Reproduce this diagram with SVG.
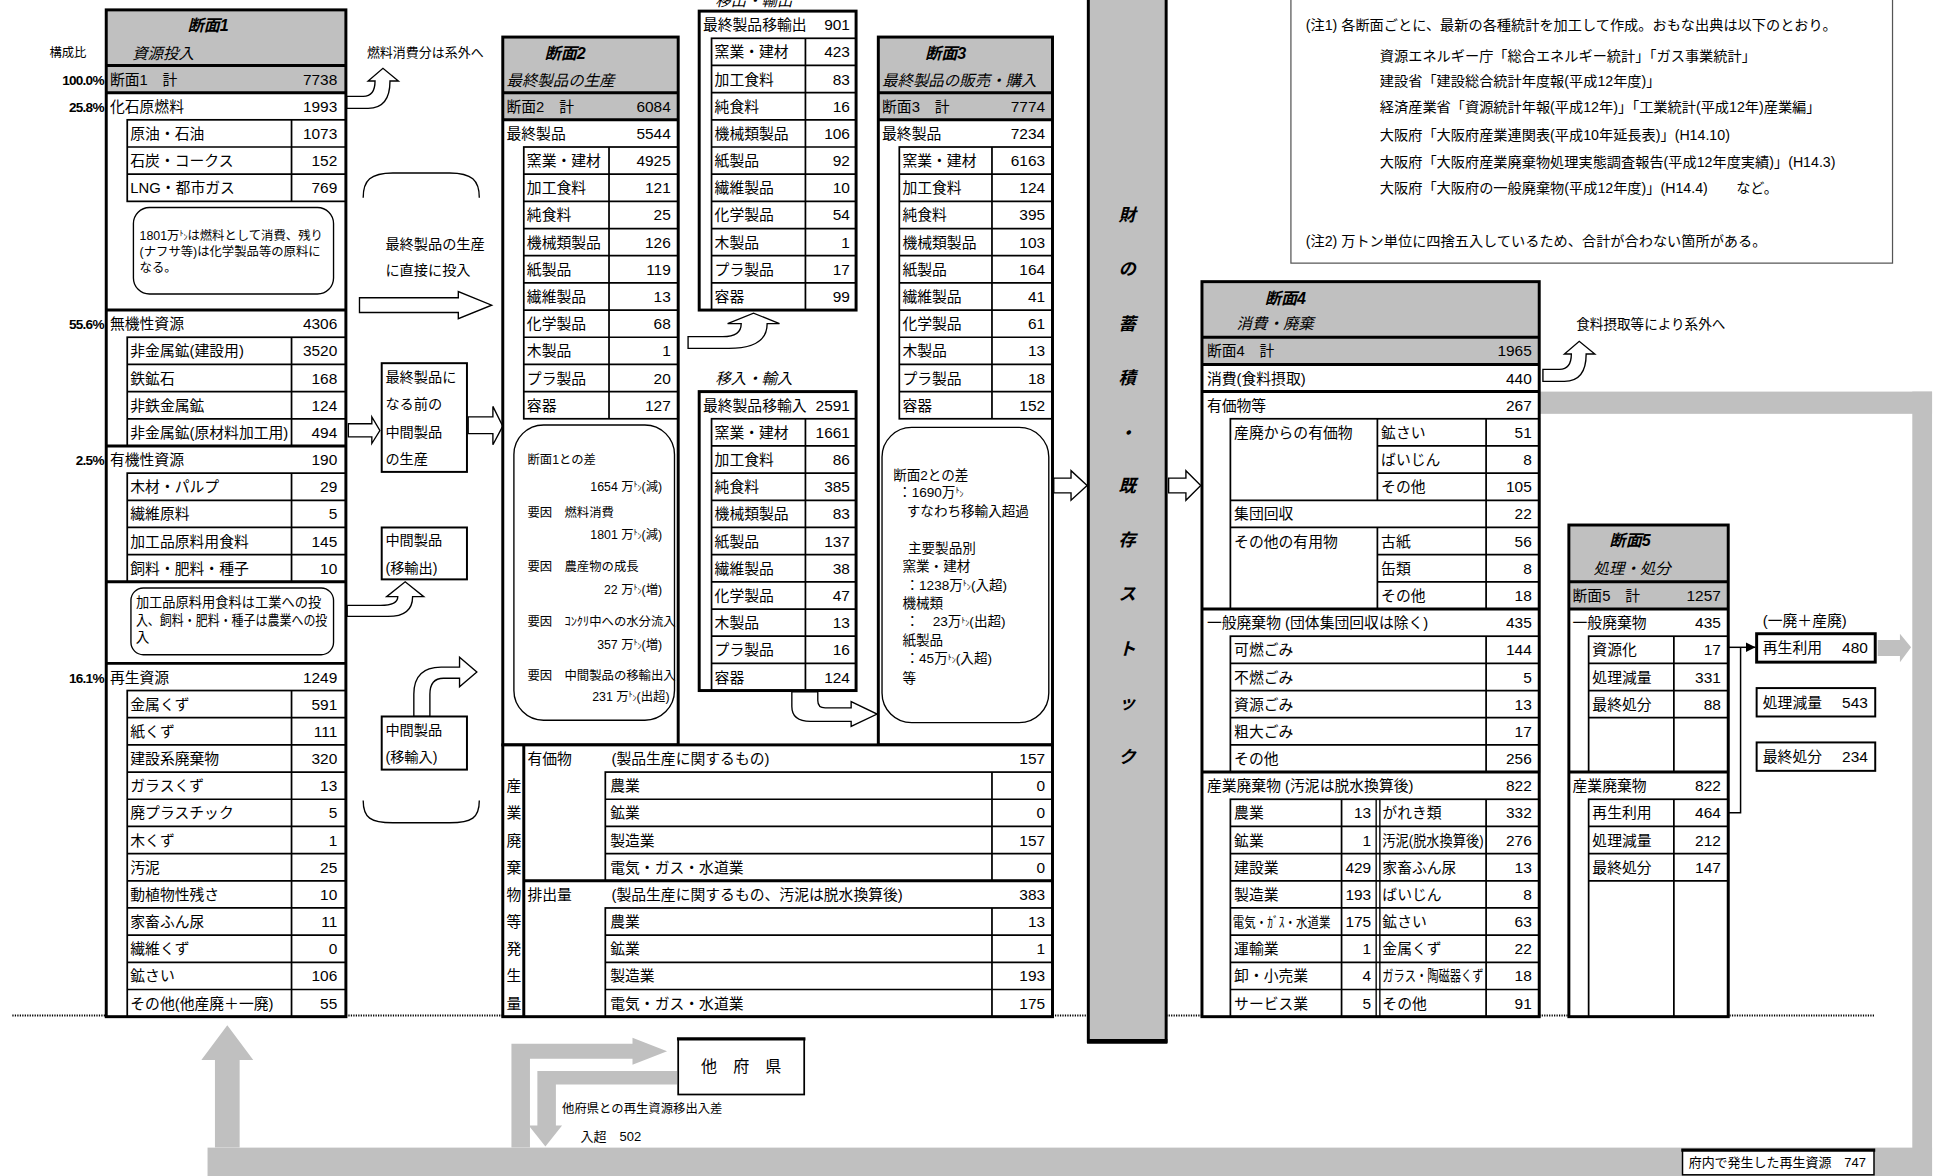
<svg xmlns="http://www.w3.org/2000/svg" width="1937" height="1176" viewBox="0 0 1937 1176">
<defs>
<style>
.t{font-family:"Liberation Sans","Noto Sans CJK JP",sans-serif;font-size:12px;fill:#000}
.v{text-anchor:end;font-size:12.5px}
.m{text-anchor:middle}
.hd{font-weight:bold;font-style:italic;font-size:13px}
.it{font-style:italic;font-size:12.5px}
.pc{font-weight:bold;font-size:11px;letter-spacing:-0.6px;text-anchor:end}
.s10{font-size:10px}
.s11{font-size:11px}
.s115{font-size:11.5px}
.k{font-size:6.5px}
.bx{fill:#fff;stroke:none}
.ob{fill:none;stroke:#000;stroke-width:2.4}
.ln{fill:none;stroke:#000;stroke-width:1.4}
.tk{fill:none;stroke:#000;stroke-width:2.4}
.gy{fill:#c0c0c0}
.ho{fill:#fff;stroke:#000;stroke-width:1.1}
.nb{fill:#fff;stroke:#000;stroke-width:1.1}
</style>
<marker id="ah" markerWidth="8" markerHeight="8" refX="8" refY="4" orient="auto" markerUnits="userSpaceOnUse"><path d="M0,0 L8,4 L0,8 Z" fill="#000"/></marker>
</defs>
<rect width="1937" height="1176" fill="#fff"/>
<g transform="scale(1.23533)">

<g id="connectors">
<line x1="10" y1="822" x2="1518" y2="822" stroke="#000" stroke-width="1.6" stroke-dasharray="1,1"/>
<rect class="gy" x="1246" y="317" width="318" height="18"/>
<rect class="gy" x="1548" y="317" width="16" height="640"/>
<rect class="gy" x="168" y="929" width="1396" height="28"/>
<polygon class="gy" points="174,929 174,858 163,858 184,830 205,858 194,858 194,929"/>
<polygon class="gy" points="1520,518 1538,518 1538,513 1547,524 1538,536 1538,531 1520,531"/>
<polygon class="gy" points="414,929 414,845 512,845 512,840 540,851 512,862 512,857 429,857 429,929"/>
<polygon class="gy" points="548,867 548,878 450,878 450,911 455,911 441.5,928 428,911 435,911 435,867"/>
<path class="ho" d="M280.6,78 L294,78 Q303.6,78 303.6,65.6 L298,65.6 L310,55.3 L322.5,65.6 L315.7,65.6 Q315.7,87.7 298,87.7 L280.6,87.7 Z"/>
<path fill="none" stroke="#000" stroke-width="1.1" d="M294,160 C294,146 300,140 318,140 L364,140 C382,140 388,146 388,160"/>
<path fill="none" stroke="#000" stroke-width="1.1" d="M294,648 C294,662 300,666 318,666 L364,666 C382,666 388,662 388,648"/>
<path class="ho" d="M291,241 L371,241 L371,236 L398,247 L371,258 L371,253 L291,253 Z"/>
<path class="ho" d="M282,343 L301,343 L301,337.5 L307.5,348.5 L301,359 L301,353.6 L282,353.6 Z"/>
<path class="ho" d="M379,337.5 L399,337.5 L399,329 L407,345 L399,360 L399,351 L379,351 Z"/>
<path class="ho" d="M281,490 L308,490 Q322,490 322,483 L313,483 L328,471 L343,483 L334,483 Q334,499 314,499 L281,499 Z"/>
<path class="ho" d="M335,580 L335,562 Q335,540 357,540 L372,540 L372,532 L386,544 L372,556 L372,549 L359,549 Q348,549 348,562 L348,580 Z"/>
<path class="ho" d="M557,272.5 L585,272.5 Q600,272.5 600,262 L589,262 L610,253.5 L631,262 L621,262 Q621,282 590,282 L557,282 Z"/>
<path class="ho" d="M641,560 L641,572 Q641,584 656,584 L689,584 L689,588 L710,578 L689,568 L689,573 L668,573 Q662,573 662,567 L662,560 Z"/>
<path class="ho" d="M853,387 L867,387 L867,381 L880,393 L867,405 L867,399 L853,399 Z"/>
<path class="ho" d="M946,387 L960,387 L960,381 L972,393 L960,405 L960,399 L946,399 Z"/>
<path class="ho" d="M1249,299 L1262.4,299 Q1272,299 1272,286.6 L1266.4,286.6 L1278.4,276.3 L1291,286.6 L1284,286.6 Q1284,308.7 1266.4,308.7 L1249,308.7 Z"/>
<line x1="1399" y1="524" x2="1421" y2="524" stroke="#000" stroke-width="1.2" marker-end="url(#ah)"/>
<polyline points="1399,658 1409,658 1409,524" fill="none" stroke="#000" stroke-width="1.2"/>
</g>

<g id="labels">
<text class="t s10" x="40" y="46">構成比</text>
<text class="t pc" x="84" y="68.5">100.0%</text>
<text class="t pc" x="84" y="90.5">25.8%</text>
<text class="t pc" x="84" y="266.5">55.6%</text>
<text class="t pc" x="84" y="376.5">2.5%</text>
<text class="t pc" x="84" y="552.5">16.1%</text>
<text class="t" x="297" y="46" style="font-size:10.5px">燃料消費分は系外へ</text>
<text class="t s115" x="312" y="201.5">最終製品の生産</text>
<text class="t s115" x="312" y="223">に直接に投入</text>
<text class="t" x="1276" y="266" style="font-size:11px">食料摂取等により系外へ</text>
<text class="t s10" x="455" y="901">他府県との再生資源移出入差</text>
<text class="t" x="470" y="924" style="font-size:10.5px">入超　502</text>
<text class="t it" x="579" y="5">移出・輸出</text>
<text class="t it" x="579" y="311">移入・輸入</text>
<text class="t" x="1427" y="507">(一廃＋産廃)</text>
</g>

<g id="mid-box1">
<rect class="nb" x="309" y="294" width="69" height="88" style="stroke-width:1.6"/>
<text class="t s115" x="312" y="309">最終製品に</text>
<text class="t s115" x="312" y="331">なる前の</text>
<text class="t s115" x="312" y="353.5">中間製品</text>
<text class="t s115" x="312" y="376">の生産</text>
</g>
<g id="mid-box2">
<rect class="nb" x="309" y="427" width="69" height="42" style="stroke-width:1.6"/>
<text class="t s115" x="312" y="441.5">中間製品</text>
<text class="t s115" x="312" y="463.5">(移輸出)</text>
</g>
<g id="mid-box3">
<rect class="nb" x="309" y="580" width="69" height="43" style="stroke-width:1.6"/>
<text class="t s115" x="312" y="595">中間製品</text>
<text class="t s115" x="312" y="617">(移輸入)</text>
</g>

<g id="sec1">
<rect class="bx" x="86" y="8" width="194" height="815"/>
<rect class="gy" x="86" y="8" width="194" height="67"/>
<text class="t hd" x="152" y="25">断面1</text>
<text class="t it" x="107" y="48">資源投入</text>
<path class="tk" d="M86,53H280M86,75H280M86,251H280M86,361H280M86,471H280M86,537H280"/>
<rect class="ln" x="103" y="97" width="177" height="66"/>
<path class="ln" d="M103,119H280M103,141H280M236,97V163"/>
<rect class="ln" x="103" y="273" width="177" height="88"/>
<path class="ln" d="M103,295H280M103,317H280M103,339H280M236,273V361"/>
<rect class="ln" x="103" y="383" width="177" height="88"/>
<path class="ln" d="M103,405H280M103,427H280M103,449H280M236,383V471"/>
<rect class="ln" x="103" y="559" width="177" height="264"/>
<path class="ln" d="M103,581H280M103,603H280M103,625H280M103,647H280M103,669H280M103,691H280M103,713H280M103,735H280M103,757H280M103,779H280M103,801H280M236,559V823"/>
<rect class="nb" x="108" y="168" width="162" height="70" rx="13"/>
<text class="t s10" x="113" y="194">1801万<tspan class="k" dy="-3">ﾄ</tspan><tspan class="k" dy="3">ﾝ</tspan>は燃料として消費、残り</text>
<text class="t s10" x="113" y="207">(ナフサ等)は化学製品等の原料に</text>
<text class="t s10" x="113" y="220">なる。</text>
<rect class="nb" x="106" y="476" width="164" height="54" rx="10"/>
<text class="t s11" x="110" y="491" textLength="150" lengthAdjust="spacingAndGlyphs">加工品原料用食料は工業への投</text>
<text class="t s11" x="110" y="506" textLength="155" lengthAdjust="spacingAndGlyphs">入、飼料・肥料・種子は農業への投</text>
<text class="t s11" x="110" y="520">入</text>
<text class="t" x="89" y="68.5">断面1　計</text><text class="t v" x="273" y="68.5">7738</text>
<text class="t" x="89" y="90.5">化石原燃料</text><text class="t v" x="273" y="90.5">1993</text>
<text class="t" x="105.5" y="112.5">原油・石油</text><text class="t v" x="273" y="112.5">1073</text>
<text class="t" x="105.5" y="134.5">石炭・コークス</text><text class="t v" x="273" y="134.5">152</text>
<text class="t" x="105.5" y="156.5">LNG・都市ガス</text><text class="t v" x="273" y="156.5">769</text>
<text class="t" x="89" y="266.5">無機性資源</text><text class="t v" x="273" y="266.5">4306</text>
<text class="t" x="105.5" y="288.5">非金属鉱(建設用)</text><text class="t v" x="273" y="288.5">3520</text>
<text class="t" x="105.5" y="310.5">鉄鉱石</text><text class="t v" x="273" y="310.5">168</text>
<text class="t" x="105.5" y="332.5">非鉄金属鉱</text><text class="t v" x="273" y="332.5">124</text>
<text class="t" x="105.5" y="354.5">非金属鉱(原材料加工用)</text><text class="t v" x="273" y="354.5">494</text>
<text class="t" x="89" y="376.5">有機性資源</text><text class="t v" x="273" y="376.5">190</text>
<text class="t" x="105.5" y="398.5">木材・パルプ</text><text class="t v" x="273" y="398.5">29</text>
<text class="t" x="105.5" y="420.5">繊維原料</text><text class="t v" x="273" y="420.5">5</text>
<text class="t" x="105.5" y="442.5">加工品原料用食料</text><text class="t v" x="273" y="442.5">145</text>
<text class="t" x="105.5" y="464.5">飼料・肥料・種子</text><text class="t v" x="273" y="464.5">10</text>
<text class="t" x="89" y="552.5">再生資源</text><text class="t v" x="273" y="552.5">1249</text>
<text class="t" x="105.5" y="574.5">金属くず</text><text class="t v" x="273" y="574.5">591</text>
<text class="t" x="105.5" y="596.5">紙くず</text><text class="t v" x="273" y="596.5">111</text>
<text class="t" x="105.5" y="618.5">建設系廃棄物</text><text class="t v" x="273" y="618.5">320</text>
<text class="t" x="105.5" y="640.5">ガラスくず</text><text class="t v" x="273" y="640.5">13</text>
<text class="t" x="105.5" y="662.5">廃プラスチック</text><text class="t v" x="273" y="662.5">5</text>
<text class="t" x="105.5" y="684.5">木くず</text><text class="t v" x="273" y="684.5">1</text>
<text class="t" x="105.5" y="706.5">汚泥</text><text class="t v" x="273" y="706.5">25</text>
<text class="t" x="105.5" y="728.5">動植物性残さ</text><text class="t v" x="273" y="728.5">10</text>
<text class="t" x="105.5" y="750.5">家畜ふん尿</text><text class="t v" x="273" y="750.5">11</text>
<text class="t" x="105.5" y="772.5">繊維くず</text><text class="t v" x="273" y="772.5">0</text>
<text class="t" x="105.5" y="794.5">鉱さい</text><text class="t v" x="273" y="794.5">106</text>
<text class="t" x="105.5" y="816.5">その他(他産廃＋一廃)</text><text class="t v" x="273" y="816.5">55</text>
<rect class="ob" x="86" y="8" width="194" height="815"/>
</g>

<g id="sec2">
<rect class="bx" x="407" y="30" width="142" height="573"/>
<rect class="gy" x="407" y="30" width="142" height="67"/>
<text class="t hd" x="441" y="48">断面2</text>
<text class="t it" x="410" y="70">最終製品の生産</text>
<path class="tk" d="M407,75H549M407,97H549"/>
<rect class="ln" x="424" y="119" width="125" height="220"/>
<path class="ln" d="M424,141H549M424,163H549M424,185H549M424,207H549M424,229H549M424,251H549M424,273H549M424,295H549M424,317H549M493,119V339"/>
<text class="t" x="410" y="90.5">断面2　計</text><text class="t v" x="543" y="90.5">6084</text>
<text class="t" x="410" y="112.5">最終製品</text><text class="t v" x="543" y="112.5">5544</text>
<text class="t" x="426.5" y="134.5">窯業・建材</text><text class="t v" x="543" y="134.5">4925</text>
<text class="t" x="426.5" y="156.5">加工食料</text><text class="t v" x="543" y="156.5">121</text>
<text class="t" x="426.5" y="178.5">純食料</text><text class="t v" x="543" y="178.5">25</text>
<text class="t" x="426.5" y="200.5">機械類製品</text><text class="t v" x="543" y="200.5">126</text>
<text class="t" x="426.5" y="222.5">紙製品</text><text class="t v" x="543" y="222.5">119</text>
<text class="t" x="426.5" y="244.5">繊維製品</text><text class="t v" x="543" y="244.5">13</text>
<text class="t" x="426.5" y="266.5">化学製品</text><text class="t v" x="543" y="266.5">68</text>
<text class="t" x="426.5" y="288.5">木製品</text><text class="t v" x="543" y="288.5">1</text>
<text class="t" x="426.5" y="310.5">プラ製品</text><text class="t v" x="543" y="310.5">20</text>
<text class="t" x="426.5" y="332.5">容器</text><text class="t v" x="543" y="332.5">127</text>
<rect class="nb" x="416" y="344" width="130" height="239" rx="24"/>
<text class="t s10" x="427" y="375.5">断面1との差</text>
<text class="t s10" x="536" y="397.5" text-anchor="end">1654 万<tspan class="k" dy="-3">ﾄ</tspan><tspan class="k" dy="3">ﾝ</tspan>(減)</text>
<text class="t s10" x="427" y="418.5">要因　燃料消費</text>
<text class="t s10" x="536" y="436.5" text-anchor="end">1801 万<tspan class="k" dy="-3">ﾄ</tspan><tspan class="k" dy="3">ﾝ</tspan>(減)</text>
<text class="t s10" x="427" y="462">要因　農産物の成長</text>
<text class="t s10" x="536" y="481" text-anchor="end">22 万<tspan class="k" dy="-3">ﾄ</tspan><tspan class="k" dy="3">ﾝ</tspan>(増)</text>
<text class="t s10" x="427" y="506.5">要因　ｺﾝｸﾘ中への水分流入</text>
<text class="t s10" x="536" y="525.5" text-anchor="end">357 万<tspan class="k" dy="-3">ﾄ</tspan><tspan class="k" dy="3">ﾝ</tspan>(増)</text>
<text class="t s10" x="427" y="550.5">要因　中間製品の移輸出入</text>
<text class="t s10" x="542" y="567.5" text-anchor="end">231 万<tspan class="k" dy="-3">ﾄ</tspan><tspan class="k" dy="3">ﾝ</tspan>(出超)</text>
<rect class="ob" x="407" y="30" width="142" height="573"/>
</g>

<g id="exports">
<rect class="bx" x="566" y="9" width="127" height="242"/>
<rect class="ln" x="576" y="31" width="117" height="220"/>
<path class="ln" d="M576,53H693M576,75H693M576,97H693M576,119H693M576,141H693M576,163H693M576,185H693M576,207H693M576,229H693M652,31V251"/>
<text class="t" x="569" y="24.5">最終製品移輸出</text><text class="t v" x="688" y="24.5">901</text>
<text class="t" x="578.5" y="46.5">窯業・建材</text><text class="t v" x="688" y="46.5">423</text>
<text class="t" x="578.5" y="68.5">加工食料</text><text class="t v" x="688" y="68.5">83</text>
<text class="t" x="578.5" y="90.5">純食料</text><text class="t v" x="688" y="90.5">16</text>
<text class="t" x="578.5" y="112.5">機械類製品</text><text class="t v" x="688" y="112.5">106</text>
<text class="t" x="578.5" y="134.5">紙製品</text><text class="t v" x="688" y="134.5">92</text>
<text class="t" x="578.5" y="156.5">繊維製品</text><text class="t v" x="688" y="156.5">10</text>
<text class="t" x="578.5" y="178.5">化学製品</text><text class="t v" x="688" y="178.5">54</text>
<text class="t" x="578.5" y="200.5">木製品</text><text class="t v" x="688" y="200.5">1</text>
<text class="t" x="578.5" y="222.5">プラ製品</text><text class="t v" x="688" y="222.5">17</text>
<text class="t" x="578.5" y="244.5">容器</text><text class="t v" x="688" y="244.5">99</text>
<rect class="ob" x="566" y="9" width="127" height="242"/>
</g>

<g id="imports">
<rect class="bx" x="566" y="317" width="127" height="242"/>
<rect class="ln" x="576" y="339" width="117" height="220"/>
<path class="ln" d="M576,361H693M576,383H693M576,405H693M576,427H693M576,449H693M576,471H693M576,493H693M576,515H693M576,537H693M652,339V559"/>
<text class="t" x="569" y="332.5">最終製品移輸入</text><text class="t v" x="688" y="332.5">2591</text>
<text class="t" x="578.5" y="354.5">窯業・建材</text><text class="t v" x="688" y="354.5">1661</text>
<text class="t" x="578.5" y="376.5">加工食料</text><text class="t v" x="688" y="376.5">86</text>
<text class="t" x="578.5" y="398.5">純食料</text><text class="t v" x="688" y="398.5">385</text>
<text class="t" x="578.5" y="420.5">機械類製品</text><text class="t v" x="688" y="420.5">83</text>
<text class="t" x="578.5" y="442.5">紙製品</text><text class="t v" x="688" y="442.5">137</text>
<text class="t" x="578.5" y="464.5">繊維製品</text><text class="t v" x="688" y="464.5">38</text>
<text class="t" x="578.5" y="486.5">化学製品</text><text class="t v" x="688" y="486.5">47</text>
<text class="t" x="578.5" y="508.5">木製品</text><text class="t v" x="688" y="508.5">13</text>
<text class="t" x="578.5" y="530.5">プラ製品</text><text class="t v" x="688" y="530.5">16</text>
<text class="t" x="578.5" y="552.5">容器</text><text class="t v" x="688" y="552.5">124</text>
<rect class="ob" x="566" y="317" width="127" height="242"/>
</g>

<g id="sec3">
<rect class="bx" x="711" y="30" width="141" height="573"/>
<rect class="gy" x="711" y="30" width="141" height="67"/>
<text class="t hd" x="749" y="48">断面3</text>
<text class="t it" x="714" y="70">最終製品の販売・購入</text>
<path class="tk" d="M711,75H852M711,97H852"/>
<rect class="ln" x="728" y="119" width="124" height="220"/>
<path class="ln" d="M728,141H852M728,163H852M728,185H852M728,207H852M728,229H852M728,251H852M728,273H852M728,295H852M728,317H852M803,119V339"/>
<text class="t" x="714" y="90.5">断面3　計</text><text class="t v" x="846" y="90.5">7774</text>
<text class="t" x="714" y="112.5">最終製品</text><text class="t v" x="846" y="112.5">7234</text>
<text class="t" x="730.5" y="134.5">窯業・建材</text><text class="t v" x="846" y="134.5">6163</text>
<text class="t" x="730.5" y="156.5">加工食料</text><text class="t v" x="846" y="156.5">124</text>
<text class="t" x="730.5" y="178.5">純食料</text><text class="t v" x="846" y="178.5">395</text>
<text class="t" x="730.5" y="200.5">機械類製品</text><text class="t v" x="846" y="200.5">103</text>
<text class="t" x="730.5" y="222.5">紙製品</text><text class="t v" x="846" y="222.5">164</text>
<text class="t" x="730.5" y="244.5">繊維製品</text><text class="t v" x="846" y="244.5">41</text>
<text class="t" x="730.5" y="266.5">化学製品</text><text class="t v" x="846" y="266.5">61</text>
<text class="t" x="730.5" y="288.5">木製品</text><text class="t v" x="846" y="288.5">13</text>
<text class="t" x="730.5" y="310.5">プラ製品</text><text class="t v" x="846" y="310.5">18</text>
<text class="t" x="730.5" y="332.5">容器</text><text class="t v" x="846" y="332.5">152</text>
<rect class="nb" x="714" y="346" width="135" height="239" rx="24"/>
<text class="t s11" x="723" y="388.5">断面2との差</text>
<text class="t s11" x="727" y="402">：1690万<tspan class="k" dy="-3">ﾄ</tspan><tspan class="k" dy="3">ﾝ</tspan></text>
<text class="t s11" x="734" y="418">すなわち移輸入超過</text>
<text class="t s11" x="735" y="448">主要製品別</text>
<text class="t s11" x="730.5" y="462">窯業・建材</text>
<text class="t s11" x="733" y="477.5">：1238万<tspan class="k" dy="-3">ﾄ</tspan><tspan class="k" dy="3">ﾝ</tspan>(入超)</text>
<text class="t s11" x="730.5" y="492.5">機械類</text>
<text class="t s11" x="733" y="507">：　23万<tspan class="k" dy="-3">ﾄ</tspan><tspan class="k" dy="3">ﾝ</tspan>(出超)</text>
<text class="t s11" x="730.5" y="522.5">紙製品</text>
<text class="t s11" x="733" y="537">：45万<tspan class="k" dy="-3">ﾄ</tspan><tspan class="k" dy="3">ﾝ</tspan>(入超)</text>
<text class="t s11" x="730.5" y="553">等</text>
<rect class="ob" x="711" y="30" width="141" height="573"/>
</g>

<g id="industrial-waste">
<rect class="bx" x="407" y="603" width="445" height="220"/>
<path class="tk" d="M424,603V823M424,713H852"/>
<rect class="ln" x="490" y="625" width="362" height="88"/>
<path class="ln" d="M490,647H852M490,669H852M490,691H852M803,625V713"/>
<rect class="ln" x="490" y="735" width="362" height="88"/>
<path class="ln" d="M490,757H852M490,779H852M490,801H852M803,735V823"/>
<text class="t m" x="416" y="640.5">産</text>
<text class="t m" x="416" y="662.5">業</text>
<text class="t m" x="416" y="684.5">廃</text>
<text class="t m" x="416" y="706.5">棄</text>
<text class="t m" x="416" y="728.5">物</text>
<text class="t m" x="416" y="750.5">等</text>
<text class="t m" x="416" y="772.5">発</text>
<text class="t m" x="416" y="794.5">生</text>
<text class="t m" x="416" y="816.5">量</text>
<text class="t" x="427" y="618.5">有価物</text><text class="t" x="495" y="618.5">(製品生産に関するもの)</text><text class="t v" x="846" y="618.5">157</text>
<text class="t" x="494" y="640.5">農業</text><text class="t v" x="846" y="640.5">0</text>
<text class="t" x="494" y="662.5">鉱業</text><text class="t v" x="846" y="662.5">0</text>
<text class="t" x="494" y="684.5">製造業</text><text class="t v" x="846" y="684.5">157</text>
<text class="t" x="494" y="706.5">電気・ガス・水道業</text><text class="t v" x="846" y="706.5">0</text>
<text class="t" x="427" y="728.5">排出量</text><text class="t" x="495" y="728.5">(製品生産に関するもの、汚泥は脱水換算後)</text><text class="t v" x="846" y="728.5">383</text>
<text class="t" x="494" y="750.5">農業</text><text class="t v" x="846" y="750.5">13</text>
<text class="t" x="494" y="772.5">鉱業</text><text class="t v" x="846" y="772.5">1</text>
<text class="t" x="494" y="794.5">製造業</text><text class="t v" x="846" y="794.5">193</text>
<text class="t" x="494" y="816.5">電気・ガス・水道業</text><text class="t v" x="846" y="816.5">175</text>
<rect class="ob" x="407" y="603" width="445" height="220"/>
</g>

<g id="stock">
<rect class="gy" x="881" y="-5" width="63" height="848" stroke="#000" stroke-width="2.4"/>
<line x1="880" y1="843" x2="945" y2="843" stroke="#000" stroke-width="4"/>
<text class="t hd m" x="912.5" y="179" style="font-size:14px">財</text>
<text class="t hd m" x="912.5" y="223" style="font-size:14px">の</text>
<text class="t hd m" x="912.5" y="267" style="font-size:14px">蓄</text>
<text class="t hd m" x="912.5" y="311" style="font-size:14px">積</text>
<text class="t hd m" x="912.5" y="355" style="font-size:14px">・</text>
<text class="t hd m" x="912.5" y="398" style="font-size:14px">既</text>
<text class="t hd m" x="912.5" y="442" style="font-size:14px">存</text>
<text class="t hd m" x="912.5" y="486" style="font-size:14px">ス</text>
<text class="t hd m" x="912.5" y="530" style="font-size:14px">ト</text>
<text class="t hd m" x="912.5" y="574" style="font-size:14px">ッ</text>
<text class="t hd m" x="912.5" y="618" style="font-size:14px">ク</text>
</g>

<g id="notes">
<rect x="1045" y="-5" width="487" height="218" fill="#fff" stroke="#555" stroke-width="1"/>
<text class="t s115" x="1057" y="24">(注1) 各断面ごとに、最新の各種統計を加工して作成。おもな出典は以下のとおり。</text>
<text class="t s115" x="1117" y="49">資源エネルギー庁「総合エネルギー統計」「ガス事業統計」</text>
<text class="t s115" x="1117" y="70">建設省「建設総合統計年度報(平成12年度)」</text>
<text class="t s115" x="1117" y="91">経済産業省「資源統計年報(平成12年)」「工業統計(平成12年)産業編」</text>
<text class="t s115" x="1117" y="113">大阪府「大阪府産業連関表(平成10年延長表)」(H14.10)</text>
<text class="t s115" x="1117" y="135">大阪府「大阪府産業廃棄物処理実態調査報告(平成12年度実績)」(H14.3)</text>
<text class="t s115" x="1117" y="156">大阪府「大阪府の一般廃棄物(平成12年度)」(H14.4)　　など。</text>
<text class="t s115" x="1057" y="199">(注2) 万トン単位に四捨五入しているため、合計が合わない箇所がある。</text>
</g>

<g id="sec4">
<rect class="bx" x="973" y="228" width="273" height="595"/>
<rect class="gy" x="973" y="228" width="273" height="67"/>
<text class="t hd" x="1024" y="246">断面4</text>
<text class="t it" x="1001" y="266">消費・廃棄</text>
<path class="tk" d="M973,273H1246M973,295H1246M973,317H1246M973,493H1246M973,625H1246"/>
<rect class="ln" x="996" y="339" width="250" height="154"/>
<path class="ln" d="M1115,361H1246M1115,383H1246M996,405H1246M996,427H1246M1115,449H1246M1115,471H1246M1115,339V405M1115,427V493M1203,339V493"/>
<rect class="ln" x="996" y="515" width="250" height="110"/>
<path class="ln" d="M996,537H1246M996,559H1246M996,581H1246M996,603H1246M1203,515V625"/>
<rect class="ln" x="996" y="647" width="250" height="176"/>
<path class="ln" d="M996,669H1246M996,691H1246M996,713H1246M996,735H1246M996,757H1246M996,779H1246M996,801H1246M1086,647V823M1203,647V823"/>
<path d="M1114,647V823M1117,647V823" stroke="#000" stroke-width="1.1" fill="none"/>
<text class="t" x="977" y="288.5">断面4　計</text><text class="t v" x="1240" y="288.5">1965</text>
<text class="t" x="977" y="310.5">消費(食料摂取)</text><text class="t v" x="1240" y="310.5">440</text>
<text class="t" x="977" y="332.5">有価物等</text><text class="t v" x="1240" y="332.5">267</text>
<text class="t" x="999" y="354.5">産廃からの有価物</text>
<text class="t" x="1118" y="354.5">鉱さい</text><text class="t v" x="1240" y="354.5">51</text>
<text class="t" x="1118" y="376.5">ばいじん</text><text class="t v" x="1240" y="376.5">8</text>
<text class="t" x="1118" y="398.5">その他</text><text class="t v" x="1240" y="398.5">105</text>
<text class="t" x="999" y="420.5">集団回収</text><text class="t v" x="1240" y="420.5">22</text>
<text class="t" x="999" y="442.5">その他の有用物</text>
<text class="t" x="1118" y="442.5">古紙</text><text class="t v" x="1240" y="442.5">56</text>
<text class="t" x="1118" y="464.5">缶類</text><text class="t v" x="1240" y="464.5">8</text>
<text class="t" x="1118" y="486.5">その他</text><text class="t v" x="1240" y="486.5">18</text>
<text class="t" x="977" y="508.5">一般廃棄物 (団体集団回収は除く)</text><text class="t v" x="1240" y="508.5">435</text>
<text class="t" x="999" y="530.5">可燃ごみ</text><text class="t v" x="1240" y="530.5">144</text>
<text class="t" x="999" y="552.5">不燃ごみ</text><text class="t v" x="1240" y="552.5">5</text>
<text class="t" x="999" y="574.5">資源ごみ</text><text class="t v" x="1240" y="574.5">13</text>
<text class="t" x="999" y="596.5">粗大ごみ</text><text class="t v" x="1240" y="596.5">17</text>
<text class="t" x="999" y="618.5">その他</text><text class="t v" x="1240" y="618.5">256</text>
<text class="t" x="977" y="640.5">産業廃棄物 (汚泥は脱水換算後)</text><text class="t v" x="1240" y="640.5">822</text>
<text class="t" x="999" y="662.5">農業</text><text class="t v" x="1110" y="662.5">13</text><text class="t" x="1119" y="662.5">がれき類</text><text class="t v" x="1240" y="662.5">332</text>
<text class="t" x="999" y="684.5">鉱業</text><text class="t v" x="1110" y="684.5">1</text><text class="t" x="1119" y="684.5" textLength="82" lengthAdjust="spacingAndGlyphs">汚泥(脱水換算後)</text><text class="t v" x="1240" y="684.5">276</text>
<text class="t" x="999" y="706.5">建設業</text><text class="t v" x="1110" y="706.5">429</text><text class="t" x="1119" y="706.5">家畜ふん尿</text><text class="t v" x="1240" y="706.5">13</text>
<text class="t" x="999" y="728.5">製造業</text><text class="t v" x="1110" y="728.5">193</text><text class="t" x="1119" y="728.5">ばいじん</text><text class="t v" x="1240" y="728.5">8</text>
<text class="t" x="998" y="750.5" textLength="79" lengthAdjust="spacingAndGlyphs" style="font-size:11px">電気・ｶﾞｽ・水道業</text><text class="t v" x="1110" y="750.5">175</text><text class="t" x="1119" y="750.5">鉱さい</text><text class="t v" x="1240" y="750.5">63</text>
<text class="t" x="999" y="772.5">運輸業</text><text class="t v" x="1110" y="772.5">1</text><text class="t" x="1119" y="772.5">金属くず</text><text class="t v" x="1240" y="772.5">22</text>
<text class="t" x="999" y="794.5">卸・小売業</text><text class="t v" x="1110" y="794.5">4</text><text class="t" x="1119" y="794.5" textLength="82" lengthAdjust="spacingAndGlyphs">ガラス・陶磁器くず</text><text class="t v" x="1240" y="794.5">18</text>
<text class="t" x="999" y="816.5">サービス業</text><text class="t v" x="1110" y="816.5">5</text><text class="t" x="1119" y="816.5">その他</text><text class="t v" x="1240" y="816.5">91</text>
<rect class="ob" x="973" y="228" width="273" height="595"/>
</g>

<g id="sec5">
<rect class="bx" x="1270" y="425" width="129" height="398"/>
<rect class="gy" x="1270" y="425" width="129" height="68"/>
<text class="t hd" x="1303" y="442">断面5</text>
<text class="t it" x="1290" y="465">処理・処分</text>
<path class="tk" d="M1270,471H1399M1270,493H1399M1270,625H1399"/>
<rect class="ln" x="1286" y="515" width="113" height="110"/>
<path class="ln" d="M1286,537H1399M1286,559H1399M1286,581H1399M1355,515V625"/>
<rect class="ln" x="1286" y="647" width="113" height="176"/>
<path class="ln" d="M1286,669H1399M1286,691H1399M1286,713H1399M1355,647V823"/>
<text class="t" x="1273" y="486.5">断面5　計</text><text class="t v" x="1393" y="486.5">1257</text>
<text class="t" x="1273" y="508.5">一般廃棄物</text><text class="t v" x="1393" y="508.5">435</text>
<text class="t" x="1289" y="530.5">資源化</text><text class="t v" x="1393" y="530.5">17</text>
<text class="t" x="1289" y="552.5">処理減量</text><text class="t v" x="1393" y="552.5">331</text>
<text class="t" x="1289" y="574.5">最終処分</text><text class="t v" x="1393" y="574.5">88</text>
<text class="t" x="1273" y="640.5">産業廃棄物</text><text class="t v" x="1393" y="640.5">822</text>
<text class="t" x="1289" y="662.5">再生利用</text><text class="t v" x="1393" y="662.5">464</text>
<text class="t" x="1289" y="684.5">処理減量</text><text class="t v" x="1393" y="684.5">212</text>
<text class="t" x="1289" y="706.5">最終処分</text><text class="t v" x="1393" y="706.5">147</text>
<rect class="ob" x="1270" y="425" width="129" height="398"/>
</g>

<g id="recycle-total">
<rect x="1422" y="513" width="96" height="23" fill="#fff" stroke="#000" stroke-width="2.4"/>
<text class="t" x="1427" y="529">再生利用</text><text class="t v" x="1512" y="529">480</text>
</g>
<g id="reduction-total">
<rect x="1422" y="557" width="96" height="23" fill="#fff" stroke="#000" stroke-width="1.6"/>
<text class="t" x="1427" y="573">処理減量</text><text class="t v" x="1512" y="573">543</text>
</g>
<g id="disposal-total">
<rect x="1422" y="601" width="96" height="23" fill="#fff" stroke="#000" stroke-width="1.6"/>
<text class="t" x="1427" y="617">最終処分</text><text class="t v" x="1512" y="617">234</text>
</g>

<g id="other-prefectures">
<rect x="549" y="841" width="102" height="45" fill="#fff" stroke="#000" stroke-width="1.4"/>
<line x1="548" y1="841" x2="652" y2="841" stroke="#000" stroke-width="2.5"/>
<text class="t m" x="600" y="868" style="font-size:13px">他　府　県</text>
</g>
<g id="internal-recycled">
<rect x="1362" y="931" width="155" height="20" fill="#fff" stroke="#000" stroke-width="1.2"/>
<line x1="1361" y1="931" x2="1518" y2="931" stroke="#000" stroke-width="2.5"/>
<text class="t" x="1367" y="945" style="font-size:10.5px">府内で発生した再生資源　747</text>
</g>

</g>
</svg>
